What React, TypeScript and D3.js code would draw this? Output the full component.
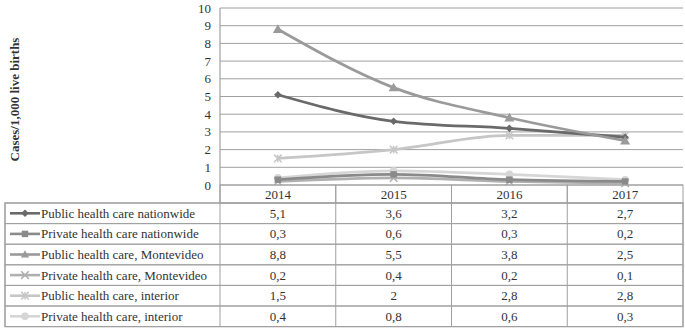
import React from "react";
import * as d3 from "d3";

const years = ["2014", "2015", "2016", "2017"];
const seriesNames = [
  "Public health care nationwide",
  "Private health care nationwide",
  "Public health care, Montevideo",
  "Private health care, Montevideo",
  "Public health care, interior",
  "Private health care, interior",
];
const publicNationwide = [5.1, 3.6, 3.2, 2.7];
const privateNationwide = [0.3, 0.6, 0.3, 0.2];
const publicMontevideo = [8.8, 5.5, 3.8, 2.5];
const privateMontevideo = [0.2, 0.4, 0.2, 0.1];
const publicInterior = [1.5, 2, 2.8, 2.8];
const privateInterior = [0.4, 0.8, 0.6, 0.3];
const yTicks = [0, 1, 2, 3, 4, 5, 6, 7, 8, 9, 10];
const yTitle = "Cases/1,000 live births";

const seriesValues = [
  publicNationwide,
  privateNationwide,
  publicMontevideo,
  privateMontevideo,
  publicInterior,
  privateInterior,
];
const colors = ["#6a6a6a", "#8a8a8a", "#9a9a9a", "#b0b0b0", "#c6c6c6", "#d6d6d6"];
const markers = ["diamond", "square", "triangle", "x", "asterisk", "circle"];

const W = 685, H = 329;
const plotL = 220, plotR = 683, plotT = 8, plotB = 185;
const tableL = 5;
const headerB = 203;
const rowH = 20.6;

function Marker({ type, x, y, color, s = 1 }: any) {
  const r = 3.8 * s;
  switch (type) {
    case "diamond":
      return <path d={`M${x},${y - r}L${x + r},${y}L${x},${y + r}L${x - r},${y}Z`} fill={color} />;
    case "square":
      return <rect x={x - r * 0.85} y={y - r * 0.85} width={r * 1.7} height={r * 1.7} fill={color} />;
    case "triangle":
      return <path d={`M${x},${y - r * 1.1}L${x + r * 1.1},${y + r * 0.8}L${x - r * 1.1},${y + r * 0.8}Z`} fill={color} />;
    case "x":
      return (
        <g stroke={color} strokeWidth={1.5}>
          <line x1={x - r} y1={y - r} x2={x + r} y2={y + r} />
          <line x1={x - r} y1={y + r} x2={x + r} y2={y - r} />
        </g>
      );
    case "asterisk":
      return (
        <g stroke={color} strokeWidth={1.5}>
          <line x1={x - r} y1={y - r} x2={x + r} y2={y + r} />
          <line x1={x - r} y1={y + r} x2={x + r} y2={y - r} />
          <line x1={x} y1={y - r} x2={x} y2={y + r} />
        </g>
      );
    default:
      return <circle cx={x} cy={y} r={r} fill={color} />;
  }
}

export default function App() {
  const x = d3.scaleBand<string>().domain(years).range([plotL, plotR]);
  const y = d3.scaleLinear().domain([0, 10]).range([plotB, plotT]);
  const cx = (yr: string) => (x(yr) as number) + x.bandwidth() / 2;
  const line = d3
    .line<number>()
    .x((_, i) => cx(years[i]))
    .y((v) => y(v))
    .curve(d3.curveMonotoneX);
  const font = "Liberation Serif, Times New Roman, serif";
  const grid = "#a0a0a0";
  const tableBottom = headerB + rowH * seriesNames.length;
  const drawOrder = [5, 4, 3, 1, 0, 2];
  const ts = { fontFamily: font } as React.CSSProperties;
  const fs = 13;
  return (
    <svg width={W} height={H} style={{ position: "absolute", left: 0, top: 0, background: "#fff", fontFamily: font }}>
      {yTicks.map((t) => (
        <line key={t} x1={plotL} x2={plotR} y1={y(t)} y2={y(t)} stroke={grid} strokeWidth={1} />
      ))}
      <line x1={plotL} x2={plotL} y1={plotT} y2={headerB} stroke={grid} strokeWidth={1.2} />
      {yTicks.map((t) => (
        <text key={t} x={211} y={y(t) + 4.5} textAnchor="end" fontSize={fs} fill="#333" style={ts}>
          {t}
        </text>
      ))}
      <text
        transform={`translate(19,${(plotT + plotB) / 2 + 3}) rotate(-90)`}
        textAnchor="middle"
        fontSize={13}
        fontWeight="bold"
        fill="#333"
        style={ts}
      >
        {yTitle}
      </text>
      {drawOrder.map((si) => (
        <g key={si}>
          <path d={line(seriesValues[si]) as string} fill="none" stroke={colors[si]} strokeWidth={2.8} />
          {seriesValues[si].map((v, i) => (
            <Marker key={i} type={markers[si]} x={cx(years[i])} y={y(v)} color={colors[si]} s={si === 2 ? 1.2 : 1} />
          ))}
        </g>
      ))}
      {years.map((yr) => (
        <g key={yr}>
          <rect x={x(yr)} y={plotB} width={x.bandwidth()} height={headerB - plotB} fill="none" stroke={grid} strokeWidth={1} />
          <text x={cx(yr)} y={plotB + 14} textAnchor="middle" fontSize={fs} fill="#333" style={ts}>
            {yr}
          </text>
        </g>
      ))}
      {seriesNames.map((name, si) => {
        const top = headerB + si * rowH;
        const my = top + rowH / 2;
        return (
          <g key={name}>
            <rect x={tableL} y={top} width={plotR - tableL} height={rowH} fill="none" stroke={grid} strokeWidth={1} />
            <line x1={10} x2={40} y1={my} y2={my} stroke={colors[si]} strokeWidth={2.6} />
            <Marker type={markers[si]} x={25} y={my} color={colors[si]} />
            <text x={41} y={my + 4.5} fontSize={fs} fill="#333" style={ts}>
              {name}
            </text>
            {years.map((yr, i) => (
              <g key={yr}>
                <line x1={x(yr)} x2={x(yr)} y1={top} y2={top + rowH} stroke={grid} strokeWidth={1} />
                <text x={cx(yr)} y={my + 4.5} textAnchor="middle" fontSize={fs} fill="#333" style={ts}>
                  {String(seriesValues[si][i]).replace(".", ",")}
                </text>
              </g>
            ))}
          </g>
        );
      })}
      <rect x={tableL} y={headerB} width={plotR - tableL} height={tableBottom - headerB} fill="none" stroke={grid} strokeWidth={1.2} />
    </svg>
  );
}
